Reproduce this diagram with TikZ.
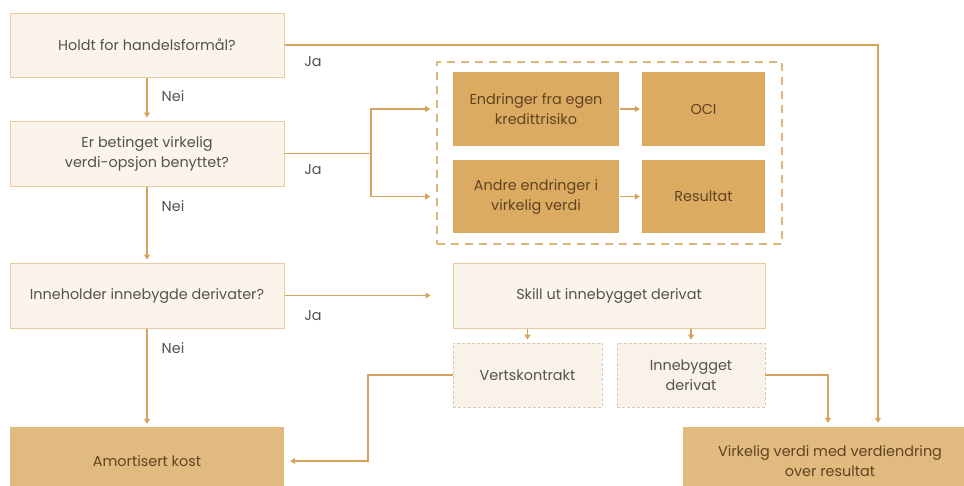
\documentclass[tikz,border=0pt]{standalone}
\usepackage{fontspec}
\setmainfont{Poppins}
\usetikzlibrary{arrows.meta,calc}

\definecolor{lineclr}{HTML}{D6A35C}
\definecolor{lightfill}{HTML}{FBF4EA}
\definecolor{lightedge}{HTML}{EACBA0}
\definecolor{darkfill}{HTML}{DCAB62}
\definecolor{basefill}{HTML}{E1BA80}
\definecolor{ghostfill}{HTML}{F9F2EA}
\definecolor{ghostedge}{HTML}{DDC7AE}
\definecolor{txtgray}{HTML}{55514D}
\definecolor{txtbrown}{HTML}{5F4320}

\newcommand{\diagfont}{\fontsize{14.4}{20}\selectfont}

\tikzset{
  box/.style={draw=lightedge, fill=lightfill, line width=1pt, inner sep=0pt,
    align=center, text=txtgray, font=\diagfont},
  solidbox/.style={fill=darkfill, inner sep=0pt, align=center, text=txtbrown,
    font=\diagfont},
  basebox/.style={fill=basefill, inner sep=0pt, align=center, text=txtbrown,
    font=\diagfont},
  ghostbox/.style={draw=ghostedge, fill=ghostfill, dashed, dash pattern=on 3pt off 2pt,
    line width=0.8pt, inner sep=0pt, align=center, text=txtgray, font=\diagfont},
  groupframe/.style={draw=lineclr!80, dash pattern=on 8pt off 6pt, line width=1.6pt, inner sep=0pt},
  link/.style={draw=lineclr, line width=1.1pt},
  arr/.style={link, -{Triangle[length=5pt,width=6pt]}},
  lbl/.style={text=txtgray, font=\diagfont},
  wh/.style 2 args={minimum width=#1pt, minimum height=#2pt},
}

\begin{document}
\begin{tikzpicture}[x=1pt, y=-1pt]
\useasboundingbox (0,0) rectangle (964,485);
\clip (0,0) rectangle (964,485);

% decision column
\node[box, wh={274}{64}] (q1) at (147,45) {Holdt for handelsformål?};
\node[box, wh={274}{65}] (q2) at (147,153.5) {Er betinget virkelig\\verdi-opsjon benyttet?};
\node[box, wh={274}{65}] (q3) at (147,295.5) {Inneholder innebygde derivater?};
\node[basebox, wh={274}{68}] (amort) at (147,461) {Amortisert kost};

% fair value option group
\node[groupframe, wh={345}{182}] (grp) at (609.5,153) {};
\node[solidbox, wh={166}{74}] (credit) at (536,109) {Endringer fra egen\\kredittrisiko};
\node[solidbox, wh={123}{74}] (oci) at (703.5,109) {OCI};
\node[solidbox, wh={166}{73}] (other) at (536,196.5) {Andre endringer i\\virkelig verdi};
\node[solidbox, wh={123}{73}] (res) at (703.5,196.5) {Resultat};

% embedded derivatives
\node[box, wh={312}{65}] (split) at (609,295.5) {Skill ut innebygget derivat};
\node[ghostbox, wh={149}{64}] (host) at (527.5,375) {Vertskontrakt};
\node[ghostbox, wh={148}{64}] (emb) at (691,375) {Innebygget\\derivat};

\node[basebox, wh={294}{68}] (fv) at (830,461) {Virkelig verdi med verdiendring\\over resultat};

% routing columns
\coordinate (trunk) at (878,0);
\coordinate (fork) at (371,0);
\coordinate (back) at (368,0);
\coordinate (drop) at (828,0);

% "Nei" path down the left column
\draw[arr] (q1.south) -- ([yshift=3pt]q2.north);
\draw[arr] (q2.south) -- ([yshift=3pt]q3.north);
\draw[arr] (q3.south) -- ([yshift=3pt]amort.north);
\node[lbl] (nei1) at (173,96) {Nei};
\node[lbl] (nei2) at (173,206) {Nei};
\node[lbl] (nei3) at (173,348) {Nei};

% "Ja" paths
\draw[arr, shorten >=4pt] (q1.east) -| (trunk |- fv.north);
\draw[link] (q2.east) -- (q2.east -| fork);
\draw[arr] (q2.east -| fork) |- ([xshift=-6pt]grp.west |- credit.west);
\draw[arr] (q2.east -| fork) |- ([xshift=-6pt]grp.west |- other.west);
\draw[arr] (q3.east) -- ([xshift=-22pt]split.west);
\node[lbl] (ja1) at (313,62) {Ja};
\node[lbl] (ja2) at (313,170) {Ja};
\node[lbl] (ja3) at (313,316) {Ja};

% inside the group
\draw[arr] ([xshift=1pt]credit.east) -- ([xshift=-2pt]oci.west);
\draw[arr] ([xshift=1pt]other.east) -- ([xshift=-2pt]res.west);

% split into host and derivative
\draw[arr] (host.north |- split.south) -- ([yshift=3pt]host.north);
\draw[arr] (emb.north |- split.south) -- ([yshift=3pt]emb.north);
\draw[arr] (host.west) -- (host.west -| back) |- ([xshift=6pt]amort.east);
\draw[arr, shorten >=4pt] (emb.east) -| (drop |- fv.north);
\end{tikzpicture}
\end{document}
